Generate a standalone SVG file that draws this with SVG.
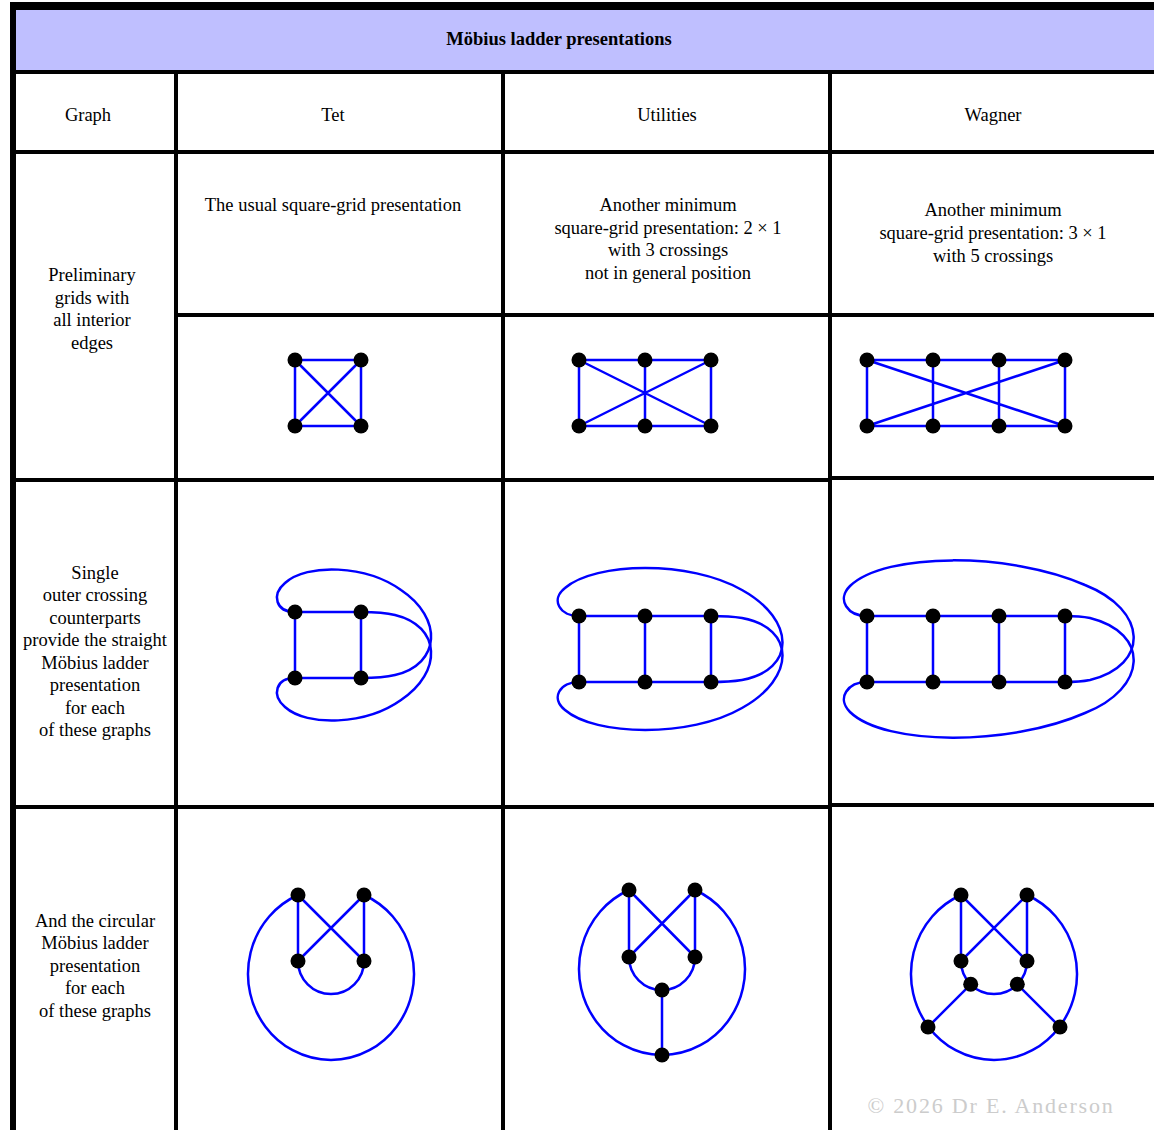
<svg xmlns="http://www.w3.org/2000/svg" width="1154" height="1130" viewBox="0 0 1154 1130">
<style>
.t{font-family:"Liberation Serif","Times New Roman",serif;font-size:18.5px;fill:#000;text-anchor:middle}
.b{font-weight:bold}
.rule{stroke:#000;stroke-width:4;fill:none}
.e{stroke:#0000ff;stroke-width:2.5;fill:none}
.v{fill:#000}
.cp{font-family:"Liberation Serif","Times New Roman",serif;font-size:22px;fill:#cccccc;text-anchor:middle;letter-spacing:1.8px}
</style>
<rect x="0" y="0" width="1154" height="1130" fill="#fff"/>
<g id="table">
<rect x="16" y="10" width="1138" height="62" fill="#bfbfff"/>
<rect x="10" y="2" width="1144" height="8" fill="#000"/>
<rect x="10" y="2" width="6" height="1128" fill="#000"/>
<line class="rule" x1="16" y1="72" x2="1154" y2="72"/>
<line class="rule" x1="16" y1="152" x2="1154" y2="152"/>
<line class="rule" x1="176" y1="315" x2="1154" y2="315"/>
<line class="rule" x1="16" y1="480" x2="830" y2="480"/>
<line class="rule" x1="830" y1="478" x2="1154" y2="478"/>
<line class="rule" x1="16" y1="807" x2="830" y2="807"/>
<line class="rule" x1="830" y1="805" x2="1154" y2="805"/>
<line class="rule" x1="176" y1="72" x2="176" y2="1130"/>
<line class="rule" x1="503" y1="72" x2="503" y2="1130"/>
<line class="rule" x1="830" y1="72" x2="830" y2="1130"/>
</g>
<g id="title"><text class="t b" x="559" y="45">Möbius ladder presentations</text></g>
<g id="h-graph"><text class="t" x="88" y="121">Graph</text></g>
<g id="h-tet"><text class="t" x="333" y="121">Tet</text></g>
<g id="h-utilities"><text class="t" x="667" y="121">Utilities</text></g>
<g id="h-wagner"><text class="t" x="993" y="121">Wagner</text></g>
<g id="r1-label"><text class="t" x="92" y="281">Preliminary</text><text class="t" x="92" y="304">grids with</text><text class="t" x="92" y="326">all interior</text><text class="t" x="92" y="349">edges</text></g>
<g id="r1-tet-text"><text class="t" x="333" y="211">The usual square-grid presentation</text></g>
<g id="r1-util-text"><text class="t" x="668" y="211">Another minimum</text><text class="t" x="668" y="234">square-grid presentation: 2 × 1</text><text class="t" x="668" y="256">with 3 crossings</text><text class="t" x="668" y="279">not in general position</text></g>
<g id="r1-wag-text"><text class="t" x="993" y="216">Another minimum</text><text class="t" x="993" y="239">square-grid presentation: 3 × 1</text><text class="t" x="993" y="262">with 5 crossings</text></g>
<g id="r2-label"><text class="t" x="95" y="579">Single</text><text class="t" x="95" y="601">outer crossing</text><text class="t" x="95" y="624">counterparts</text><text class="t" x="95" y="646">provide the straight</text><text class="t" x="95" y="669">Möbius ladder</text><text class="t" x="95" y="691">presentation</text><text class="t" x="95" y="714">for each</text><text class="t" x="95" y="736">of these graphs</text></g>
<g id="r3-label"><text class="t" x="95" y="927">And the circular</text><text class="t" x="95" y="949">Möbius ladder</text><text class="t" x="95" y="972">presentation</text><text class="t" x="95" y="994">for each</text><text class="t" x="95" y="1017">of these graphs</text></g>
<g id="connectors">
<path class="e" d="M295,360H361V426H295ZM295,360L361,426M361,360L295,426"/>
<path class="e" d="M579,360H711V426H579ZM645,360V426M579,360L711,426M711,360L579,426"/>
<path class="e" d="M867,360H1065V426H867ZM933,360V426M999,360V426M867,360L1065,426M1065,360L867,426"/>
<path class="e" d="M295,612H361V678H295Z"/>
<path class="e" d="M295,612 C276,612 271,595 285,583 C307,563 366,565 401,590 C443,618 441,664 395,675 C383,678 372,678 361,678"/>
<path class="e" d="M295,678 C276,678 271,695 285,707 C307,727 366,725 401,700 C443,672 441,626 395,615 C383,612 372,612 361,612"/>
<path class="e" d="M579,616H711V682H579ZM645,616V682"/>
<path class="e" d="M579,616 C560,616 550,600 565,588 C595,562 690,560 742,590 C796,620 796,670 742,680 C730,682 720,682 711,682"/>
<path class="e" d="M579,682 C560,682 550,698 565,710 C595,736 690,738 742,708 C796,678 796,628 742,618 C730,616 720,616 711,616"/>
<path class="e" d="M867,616H1065V682H867ZM933,616V682M999,616V682"/>
<path class="e" d="M867,616 C848,616 836,600 850,586 C885,552 1010,552 1085,585 C1148,610 1150,665 1090,680 C1080,682 1072,682 1065,682"/>
<path class="e" d="M867,682 C848,682 836,698 850,712 C885,746 1010,746 1085,713 C1148,688 1150,633 1090,618 C1080,616 1072,616 1065,616"/>
<path class="e" d="M298,895V961M364,895V961M298,895L364,961M364,895L298,961"/>
<path class="e" d="M298,895A83,86 0 1 0 364,895"/>
<path class="e" d="M298,961A33,33 0 0 0 364,961"/>
<path class="e" d="M629,890V957M695,890V957M629,890L695,957M695,890L629,957M662,990V1055"/>
<path class="e" d="M629,890A83,86 0 1 0 695,890"/>
<path class="e" d="M629,957A33,33 0 0 0 695,957"/>
<path class="e" d="M961,895V961M1027,895V961M961,895L1027,961M1027,895L961,961M970.7,984.3L928,1027M1017.3,984.3L1060,1027"/>
<path class="e" d="M961,895A83,86 0 1 0 1027,895"/>
<path class="e" d="M961,961A33,33 0 0 0 1027,961"/>
</g>
<g id="tet-grid" class="v"><circle cx="295" cy="360" r="7.5"/><circle cx="361" cy="360" r="7.5"/><circle cx="295" cy="426" r="7.5"/><circle cx="361" cy="426" r="7.5"/></g>
<g id="util-grid" class="v"><circle cx="579" cy="360" r="7.5"/><circle cx="645" cy="360" r="7.5"/><circle cx="711" cy="360" r="7.5"/><circle cx="579" cy="426" r="7.5"/><circle cx="645" cy="426" r="7.5"/><circle cx="711" cy="426" r="7.5"/></g>
<g id="wag-grid" class="v"><circle cx="867" cy="360" r="7.5"/><circle cx="933" cy="360" r="7.5"/><circle cx="999" cy="360" r="7.5"/><circle cx="1065" cy="360" r="7.5"/><circle cx="867" cy="426" r="7.5"/><circle cx="933" cy="426" r="7.5"/><circle cx="999" cy="426" r="7.5"/><circle cx="1065" cy="426" r="7.5"/></g>
<g id="tet-ladder" class="v"><circle cx="295" cy="612" r="7.5"/><circle cx="361" cy="612" r="7.5"/><circle cx="295" cy="678" r="7.5"/><circle cx="361" cy="678" r="7.5"/></g>
<g id="util-ladder" class="v"><circle cx="579" cy="616" r="7.5"/><circle cx="645" cy="616" r="7.5"/><circle cx="711" cy="616" r="7.5"/><circle cx="579" cy="682" r="7.5"/><circle cx="645" cy="682" r="7.5"/><circle cx="711" cy="682" r="7.5"/></g>
<g id="wag-ladder" class="v"><circle cx="867" cy="616" r="7.5"/><circle cx="933" cy="616" r="7.5"/><circle cx="999" cy="616" r="7.5"/><circle cx="1065" cy="616" r="7.5"/><circle cx="867" cy="682" r="7.5"/><circle cx="933" cy="682" r="7.5"/><circle cx="999" cy="682" r="7.5"/><circle cx="1065" cy="682" r="7.5"/></g>
<g id="tet-circ" class="v"><circle cx="298" cy="895" r="7.5"/><circle cx="364" cy="895" r="7.5"/><circle cx="298" cy="961" r="7.5"/><circle cx="364" cy="961" r="7.5"/></g>
<g id="util-circ" class="v"><circle cx="629" cy="890" r="7.5"/><circle cx="695" cy="890" r="7.5"/><circle cx="629" cy="957" r="7.5"/><circle cx="695" cy="957" r="7.5"/><circle cx="662" cy="990" r="7.5"/><circle cx="662" cy="1055" r="7.5"/></g>
<g id="wag-circ" class="v"><circle cx="961" cy="895" r="7.5"/><circle cx="1027" cy="895" r="7.5"/><circle cx="961" cy="961" r="7.5"/><circle cx="1027" cy="961" r="7.5"/><circle cx="970.7" cy="984.3" r="7.5"/><circle cx="1017.3" cy="984.3" r="7.5"/><circle cx="928" cy="1027" r="7.5"/><circle cx="1060" cy="1027" r="7.5"/></g>
<g id="copyright"><text class="cp" x="991" y="1113">© 2026 Dr E. Anderson</text></g>
</svg>
